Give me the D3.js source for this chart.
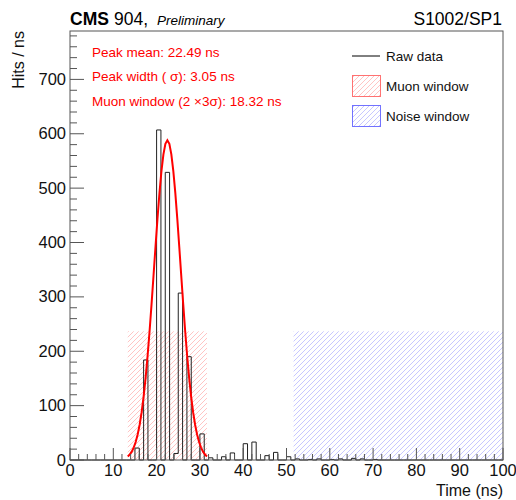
<!DOCTYPE html>
<html><head><meta charset="utf-8">
<script src="https://cdn.jsdelivr.net/npm/d3@7"></script>
<style>body{margin:0;background:#fff} text{font-family:"Liberation Sans",Arial,Helvetica,sans-serif}</style>
</head><body><svg id="c" width="516" height="500"></svg>
<script>
// ---- data ----
const binLow = [15, 17, 20, 22, 24, 25, 27, 30, 32, 35, 37, 40, 42, 45, 47, 50, 52, 55, 57, 60, 62, 65, 67, 70];
const hits   = [22, 184, 607, 529, 12, 307, 190, 48, 4, 6, 13, 30, 33, 8, 14, 6, 2, 1, 2, 1, 2, 3, 2, 1];
const nBins = 100;
const xTicks = [0, 10, 20, 30, 40, 50, 60, 70, 80, 90, 100];
const yTicks = [0, 100, 200, 300, 400, 500, 600, 700];
const fitMean = 22.49, fitSigma = 3.05, fitAmp = 588;
const muonWindow = [13.34, 31.64];
const noiseWindow = [51.64, 100];
const windowHeight = 236.7;
const yMax = 789;
const statLines = ["Peak mean: 22.49 ns", "Peak width ( σ): 3.05 ns", "Muon window (2 ×3σ): 18.32 ns"];
const legendLabels = ["Raw data", "Muon window", "Noise window"];

// ---- layout ----
const svg = d3.select("#c");
const L = 70, R = 503, T = 31, B = 460;
const x = d3.scaleLinear().domain([0, 100]).range([L, R]);
const y = d3.scaleLinear().domain([0, yMax]).range([B, T]);

const defs = svg.append("defs");
function hatch(id, color) {
  const s = 5;
  const p = defs.append("pattern").attr("id", id).attr("patternUnits", "userSpaceOnUse")
    .attr("width", s).attr("height", s);
  p.append("path").attr("d", `M-1,1 L1,-1 M0,${s} L${s},0 M${s-1},${s+1} L${s+1},${s-1}`)
    .attr("stroke", color).attr("stroke-width", 1).attr("fill", "none");
}
hatch("hRed", "rgba(255,70,70,0.32)");
hatch("hBlue", "rgba(70,70,255,0.30)");

// windows
svg.append("rect").attr("x", x(muonWindow[0])).attr("y", y(windowHeight))
  .attr("width", x(muonWindow[1]) - x(muonWindow[0])).attr("height", y(0) - y(windowHeight))
  .attr("fill", "url(#hRed)");
svg.append("rect").attr("x", x(noiseWindow[0])).attr("y", y(windowHeight))
  .attr("width", x(noiseWindow[1]) - x(noiseWindow[0])).attr("height", y(0) - y(windowHeight))
  .attr("fill", "url(#hBlue)");

// histogram
const counts = new Array(nBins).fill(0);
binLow.forEach((b, i) => { counts[b] = hits[i]; });
const pts = [[0, 0]];
counts.forEach((c, i) => { pts.push([i, c]); pts.push([i + 1, c]); });
pts.push([100, 0]);
svg.append("path").attr("d", d3.line().x(d => x(d[0])).y(d => y(d[1]))(pts))
  .attr("fill", "none").attr("stroke", "#222").attr("stroke-width", 1);

// fit curve
const nFit = 40;
const fitPts = d3.range(nFit + 1).map(i => {
  const xv = muonWindow[0] + (muonWindow[1] - muonWindow[0]) * i / nFit;
  return [xv, fitAmp * Math.exp(-0.5 * Math.pow((xv - fitMean) / fitSigma, 2))];
});
svg.append("path").attr("d", d3.line().x(d => x(d[0])).y(d => y(d[1]))(fitPts))
  .attr("fill", "none").attr("stroke", "#ff0000").attr("stroke-width", 2);

// frame
svg.append("rect").attr("x", L).attr("y", T).attr("width", R - L).attr("height", B - T)
  .attr("fill", "none").attr("stroke", "#555").attr("stroke-width", 1);

// x axis ticks
const gx = svg.append("g");
d3.range(0, 101, 2).forEach(v => {
  const major = v % 10 === 0;
  gx.append("line").attr("x1", x(v)).attr("x2", x(v)).attr("y1", B).attr("y2", B - (major ? 12 : 6))
    .attr("stroke", "#555").attr("stroke-width", 1);
});
gx.selectAll("text.xl").data(xTicks).join("text").attr("class", "xl")
  .attr("x", d => x(d)).attr("y", 476).attr("text-anchor", "middle")
  .attr("font-size", 16.5).attr("fill", "#111").text(d => d);

// y axis ticks
const gy = svg.append("g");
d3.range(0, yMax, 20).forEach(v => {
  const major = v % 100 === 0;
  gy.append("line").attr("x1", L).attr("x2", L + (major ? 14 : 7)).attr("y1", y(v)).attr("y2", y(v))
    .attr("stroke", "#555").attr("stroke-width", 1);
});
gy.selectAll("text.yl").data(yTicks).join("text").attr("class", "yl")
  .attr("x", 66).attr("y", d => y(d) + 5.5).attr("text-anchor", "end")
  .attr("font-size", 16.5).attr("fill", "#111").text(d => d);

// axis titles
svg.append("text").attr("x", R).attr("y", 496).attr("text-anchor", "end")
  .attr("font-size", 16).attr("fill", "#111").text("Time (ns)");
svg.append("text").attr("transform", `translate(24,${T}) rotate(-90)`).attr("text-anchor", "end")
  .attr("font-size", 16).attr("fill", "#111").text("Hits / ns");

// header
svg.append("text").attr("x", 70).attr("y", 25).attr("font-size", 17.5).attr("font-weight", "bold").attr("fill", "#000").text("CMS");
svg.append("text").attr("x", 114).attr("y", 25).attr("font-size", 17.5).attr("fill", "#000").text("904,");
svg.append("text").attr("x", 157).attr("y", 25).attr("font-size", 13.5).attr("font-style", "italic").attr("fill", "#000").text("Preliminary");
svg.append("text").attr("x", 502).attr("y", 25).attr("font-size", 17.5).attr("text-anchor", "end").attr("fill", "#000").text("S1002/SP1");

// stats text
svg.selectAll("text.st").data(statLines).join("text").attr("class", "st")
  .attr("x", 92).attr("y", (d, i) => 56.5 + i * 24.5).attr("font-size", 13.5).attr("fill", "#ff0000").text(d => d);

// legend
const lg = svg.append("g");
lg.append("line").attr("x1", 352).attr("x2", 380).attr("y1", 56).attr("y2", 56).attr("stroke", "#000").attr("stroke-width", 1);
lg.append("rect").attr("x", 352.5).attr("y", 75.5).attr("width", 28).attr("height", 21)
  .attr("fill", "url(#hRed)").attr("stroke", "rgba(255,80,80,0.8)").attr("stroke-width", 1);
lg.append("rect").attr("x", 352.5).attr("y", 105.5).attr("width", 28).attr("height", 21)
  .attr("fill", "url(#hBlue)").attr("stroke", "rgba(80,80,255,0.8)").attr("stroke-width", 1);
lg.selectAll("text").data(legendLabels).join("text")
  .attr("x", 386).attr("y", (d, i) => 60.5 + i * 30.3).attr("font-size", 13.5).attr("fill", "#111").text(d => d);
</script>
</body></html>
